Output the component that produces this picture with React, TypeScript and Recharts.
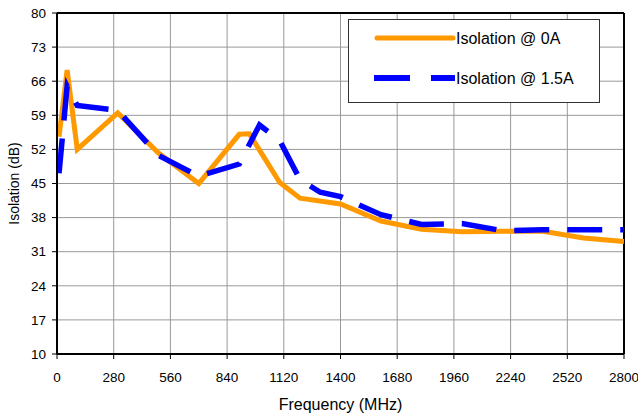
import React from 'react';
import { LineChart, Line, XAxis, YAxis, CartesianGrid, Legend, ReferenceLine } from 'recharts';

const freq0A = [10, 50, 100, 300, 500, 700, 900, 950, 1100, 1200, 1400, 1600, 1800, 2000, 2200, 2400, 2600, 2800];
const iso0A = [54.6, 68.3, 52, 59.5, 51.3, 45, 55.1, 55.2, 45.2, 42, 40.8, 37.3, 35.6, 35.1, 35.2, 35.2, 33.8, 33.1];

const freq15A = [10, 50, 100, 300, 500, 700, 900, 1000, 1100, 1200, 1300, 1400, 1600, 1800, 2000, 2200, 2400, 2600, 2800];
const iso15A = [47.1, 65, 61, 60, 50.8, 46.5, 49, 57, 53.8, 45.8, 43.2, 42.3, 38.6, 36.6, 36.8, 35.3, 35.5, 35.5, 35.5];

const xTicks = [0, 280, 560, 840, 1120, 1400, 1680, 1960, 2240, 2520, 2800];
const yTicks = [10, 17, 24, 31, 38, 45, 52, 59, 66, 73, 80];

const seriesNames = ['Isolation @ 0A', 'Isolation @ 1.5A'];
const seriesColors = ['#FF9900', '#0000FF'];

const data0A = freq0A.map((f, i) => ({ f, v: iso0A[i] }));
const data15A = freq15A.map((f, i) => ({ f, v: iso15A[i] }));

const FONT = '"Liberation Sans", Arial, sans-serif';

const renderLegend = (props: any) => {
  const payload = props.payload || [];
  return (
    <div style={{ width: 252, height: 84, border: '1px solid #333', boxSizing: 'border-box', background: '#fff' }}>
      <svg width={250} height={82} style={{ display: 'block' }}>
        {payload.map((p: any, i: number) => {
          const y = i === 0 ? 18 : 58;
          return (
            <g key={i}>
              {i === 0 ? (
                <line x1={28} x2={104} y1={y} y2={y} stroke={p.color} strokeWidth={5} strokeLinecap="round" />
              ) : (
                <g>
                  <line x1={25} x2={61} y1={y} y2={y} stroke={p.color} strokeWidth={6} />
                  <line x1={82} x2={106} y1={y} y2={y} stroke={p.color} strokeWidth={6} />
                </g>
              )}
              <text x={107} y={y + 6} fontSize={16} fill="#000" style={{ fontFamily: FONT }}>
                {p.value}
              </text>
            </g>
          );
        })}
      </svg>
    </div>
  );
};

export default function App() {
  return (
    <div style={{ position: 'absolute', left: 0, top: 0, width: 638, height: 417, background: '#fff', fontFamily: FONT }}>
      <LineChart width={638} height={417} margin={{ top: 13, right: 14, bottom: 0, left: 0 }}>
        <CartesianGrid stroke="#999" strokeWidth={1} />
        <XAxis
          dataKey="f"
          type="number"
          domain={[0, 2800]}
          ticks={xTicks}
          allowDuplicatedCategory={false}
          height={63}
          tickSize={5}
          tickMargin={13}
          axisLine={{ stroke: '#000', strokeWidth: 2 }}
          tickLine={{ stroke: '#000' }}
          tick={{ fontSize: 13.5, fill: '#000' }}
          interval={0}
          label={{ value: 'Frequency (MHz)', position: 'insideBottom', offset: 7, fontSize: 16, fill: '#000' }}
        />
        <YAxis
          type="number"
          domain={[10, 80]}
          ticks={yTicks}
          width={57}
          tickSize={5}
          tickMargin={6}
          axisLine={{ stroke: '#000', strokeWidth: 2 }}
          tickLine={{ stroke: '#000' }}
          tick={{ fontSize: 13.5, fill: '#000' }}
          interval={0}
          label={{ value: 'Isolation (dB)', angle: -90, position: 'insideLeft', offset: 14, fontSize: 14, fill: '#000', style: { textAnchor: 'middle' } }}
        />
        <ReferenceLine y={80} stroke="#000" strokeWidth={2} />
        <ReferenceLine x={2800} stroke="#000" strokeWidth={2} />
        <Line
          data={data0A}
          dataKey="v"
          name={seriesNames[0]}
          stroke={seriesColors[0]}
          strokeWidth={5}
          dot={false}
          isAnimationActive={false}
        />
        <Line
          data={data15A}
          dataKey="v"
          name={seriesNames[1]}
          stroke={seriesColors[1]}
          strokeWidth={5.5}
          strokeDasharray="35 18"
          dot={false}
          isAnimationActive={false}
        />
        <Legend
          layout="vertical"
          align="center"
          verticalAlign="middle"
          content={renderLegend}
          wrapperStyle={{ left: 348, top: 19, width: 252, height: 84 }}
        />
      </LineChart>
    </div>
  );
}
